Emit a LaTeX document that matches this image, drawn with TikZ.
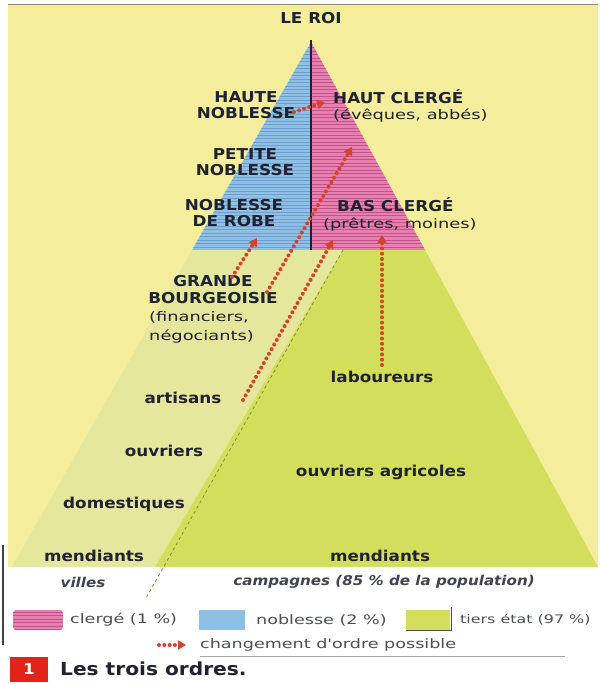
\documentclass[tikz,border=0pt]{standalone}
\usepackage{fontspec}
\setmainfont{DejaVu Sans}[FakeStretch=1.12]
\newfontfamily\widefont{DejaVu Sans}[FakeStretch=1.35]
\usetikzlibrary{arrows.meta}
\definecolor{fondc}{HTML}{F4EE9C}
\definecolor{noblec}{HTML}{8FC0E4}
\definecolor{noblestr}{HTML}{6E9FD0}
\definecolor{clergec}{HTML}{E680AE}
\definecolor{clergestr}{HTML}{C4528C}
\definecolor{villec}{HTML}{E4E79C}
\definecolor{campc}{HTML}{D3DE5C}
\definecolor{chgc}{HTML}{D8412A}
\definecolor{textc}{HTML}{1F2230}
\definecolor{boxc}{HTML}{E2231A}
\tikzset{
  ordre/.style={font=\bfseries\fontsize{15}{16}\selectfont, align=center, inner sep=0pt, text=textc},
  detail/.style={font=\widefont\fontsize{13.2}{19}\selectfont, inner sep=0pt, text=textc, anchor=west},
  peuple/.style={font=\bfseries\fontsize{15}{16}\selectfont, inner sep=0pt, text=textc},
  lieu/.style={font=\bfseries\itshape\fontsize{13.5}{14}\selectfont, inner sep=0pt, text=textc!85},
  legtxt/.style={font=\widefont\fontsize{13}{15}\selectfont, anchor=west, inner sep=0pt, text=textc!80},
  chg/.style={draw=chgc, line width=4pt, line cap=round, dash pattern=on 0pt off 5.3pt,
    -{Triangle[length=8pt,width=9pt]}},
  stripe/.style={line width=0.9pt},
}

\begin{document}
\begin{tikzpicture}[x=1pt,y=-1pt]
\useasboundingbox (0,0) rectangle (601,684);
\fill[white] (0,0) rectangle (601,684);
% fond jaune
\fill[fondc] (8,5) rectangle (598,567);
\draw[gray!70!olive, line width=1pt] (8,5) -- (598,5);
\draw[black!75, line width=1.5pt] (3,545) -- (3,645);

% tiers etat
\fill[villec] (192,250) -- (343,250) -- (155,567) -- (12,567) -- cycle;
\fill[campc] (343,250) -- (425,250) -- (598,567) -- (155,567) -- cycle;
\draw[olive!60!gray, line width=0.8pt, dashed] (343,250) -- (146,598);

% noblesse et clerge
\begin{scope}
  \clip (311,42) -- (192,250) -- (311,250) -- cycle;
  \fill[noblec] (150,40) rectangle (311,250);
  \foreach \y in {44,47.5,...,250} \draw[stripe, noblestr] (150,\y) -- (311,\y);
\end{scope}
\begin{scope}
  \clip (311,42) -- (425,250) -- (311,250) -- cycle;
  \fill[clergec] (311,40) rectangle (440,250);
  \foreach \y in {44,47.5,...,250} \draw[stripe, clergestr] (311,\y) -- (440,\y);
\end{scope}
\draw[textc, line width=2pt] (311,40) -- (311,250);

% textes
\node[ordre] (roi) at (311,18) {LE ROI};
\node[ordre] (hauteNob) at (246,105) {HAUTE\\NOBLESSE};
\node[ordre, anchor=west] (hautCler) at (333,97) {HAUT CLERGÉ};
\node[detail] (hautClerDet) at (333,116) {(évêques, abbés)};
\node[ordre] (petiteNob) at (245,162) {PETITE\\NOBLESSE};
\node[ordre] (nobRobe) at (234,213) {NOBLESSE\\DE ROBE};
\node[ordre, anchor=west] (basCler) at (337,205) {BAS CLERGÉ};
\node[detail] (basClerDet) at (323,225) {(prêtres, moines)};
\node[ordre, font=\bfseries\fontsize{15}{17}\selectfont] (grandeBourg) at (213,290) {GRANDE\\BOURGEOISIE};
\node[detail, align=left] (grandeBourgDet) at (149,327) {(financiers,\\négociants)};
\node[peuple] (laboureurs) at (382,377) {laboureurs};
\node[peuple] (artisans) at (183,398) {artisans};
\node[peuple] (ouvriers) at (164,451) {ouvriers};
\node[peuple] (ouvAgri) at (381,472) {ouvriers agricoles};
\node[peuple] (domest) at (124,504) {domestiques};
\node[peuple] (mendV) at (94,556) {mendiants};
\node[peuple] (mendC) at (380,556) {mendiants};
\node[lieu] (villes) at (83,582) {villes};
\node[lieu] (campagnes) at (384,582) {campagnes (85 \% de la population)};

% changements d'ordre
\coordinate (hnOut) at (294,112);
\coordinate (hcIn) at (325,102);
\coordinate (gbOut1) at (232,277);
\coordinate (robeIn) at (257,238);
\coordinate (gbOut2) at (267,292);
\coordinate (hcIn2) at (352,147);
\coordinate (artOut) at (243,400);
\coordinate (bcIn) at (333,240);
\coordinate (labOut) at (382,365);
\coordinate (bcIn2) at (382,235);
\draw[chg] (hnOut) -- (hcIn);
\draw[chg] (gbOut1) -- (robeIn);
\draw[chg] (gbOut2) -- (hcIn2);
\draw[chg] (artOut) -- (bcIn);
\draw[chg] (labOut) -- (bcIn2);

% legende
\begin{scope}
  \clip[rounded corners=3pt] (13,610) rectangle (63,630);
  \fill[clergec] (13,610) rectangle (63,630);
  \foreach \y in {612,615.5,...,630} \draw[stripe, clergestr] (13,\y) -- (63,\y);
\end{scope}
\node[legtxt] (legClerge) at (70,620) {clergé (1 \%)};
\fill[noblec] (199,610) rectangle (245,630);
\node[legtxt] (legNoble) at (256,620) {noblesse (2 \%)};
\fill[campc] (406,610) rectangle (450,630);
\draw[black!70, line width=1pt] (406,630) -- (451,630) -- (451,607);
\node[legtxt, font=\widefont\fontsize{11.8}{15}\selectfont] (legTiers) at (460,620) {tiers état (97 \%)};
\coordinate (legA) at (159,645);
\coordinate (legB) at (186,645);
\draw[chg] (legA) -- (legB);
\node[legtxt] (legChg) at (200,645) {changement d'ordre possible};
\draw[gray!70, line width=1pt] (200,656) -- (565,656);

% titre
\fill[boxc] (10,657) rectangle (48,682);
\node[font=\bfseries\fontsize{15}{16}\selectfont, text=white] (num) at (29,669) {1};
\node[font=\bfseries\fontsize{18}{20}\selectfont, anchor=west, inner sep=0pt, text=textc] (titre) at (60,669) {Les trois ordres.};
\end{tikzpicture}
\end{document}
